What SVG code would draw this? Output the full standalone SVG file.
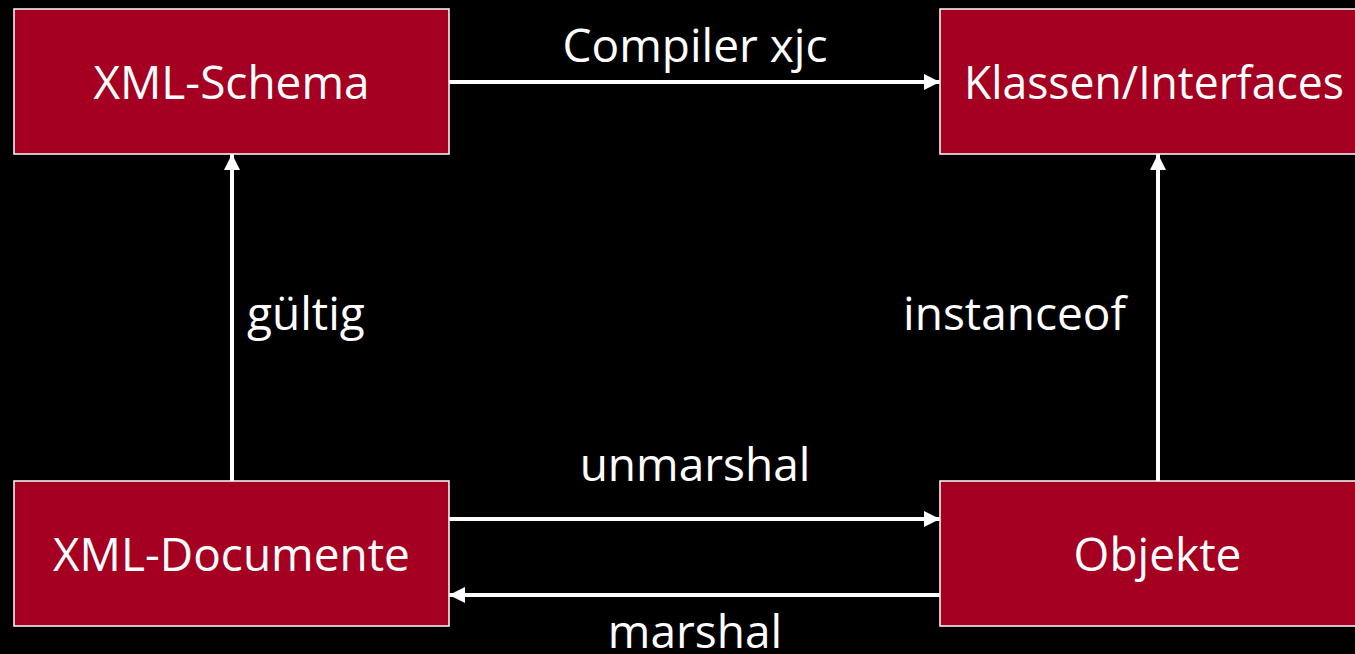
<svg xmlns="http://www.w3.org/2000/svg" width="1355" height="654" viewBox="0 0 1355 654">
<style>
.box{fill:#A50021;stroke:#fff;stroke-width:1.5}
.t{font-family:"Open Sans","Noto Sans",sans-serif;font-size:46px;fill:#fff}
.c{stroke:#fff;stroke-width:4;fill:none}
</style>
<defs>
<marker id="ah" viewBox="0 0 10 10" refX="10" refY="5" markerWidth="4" markerHeight="4" markerUnits="strokeWidth" orient="auto">
<path d="M0,0 L10,5 L0,10 z" fill="#fff"/>
</marker>
</defs>
<rect width="1355" height="654" fill="#000"/>
<g id="schema"><rect class="box" x="14" y="9" width="435" height="145"/><text class="t" x="231.5" y="99" text-anchor="middle">XML-Schema</text></g>
<g id="klassen"><rect class="box" x="940" y="9" width="435" height="145"/><text class="t" x="1154" y="99" text-anchor="middle" textLength="380" lengthAdjust="spacingAndGlyphs">Klassen/Interfaces</text></g>
<g id="documente"><rect class="box" x="14" y="481" width="435" height="145"/><text class="t" x="231.5" y="571" text-anchor="middle">XML-Documente</text></g>
<g id="objekte"><rect class="box" x="940" y="481" width="435" height="145"/><text class="t" x="1157.5" y="571" text-anchor="middle">Objekte</text></g>
<g id="connectors">
<line class="c" x1="449" y1="82" x2="940" y2="82" marker-end="url(#ah)"/>
<line class="c" x1="232" y1="481" x2="232" y2="154" marker-end="url(#ah)"/>
<line class="c" x1="1158" y1="481" x2="1158" y2="154" marker-end="url(#ah)"/>
<line class="c" x1="449" y1="519" x2="940" y2="519" marker-end="url(#ah)"/>
<line class="c" x1="940" y1="595" x2="449" y2="595" marker-end="url(#ah)"/>
<text class="t" x="695" y="62" text-anchor="middle">Compiler xjc</text>
<text class="t" x="247" y="330">gültig</text>
<text class="t" x="1126" y="330" text-anchor="end">instanceof</text>
<text class="t" x="695" y="481" text-anchor="middle">unmarshal</text>
<text class="t" x="695" y="648" text-anchor="middle">marshal</text>
</g>
</svg>
